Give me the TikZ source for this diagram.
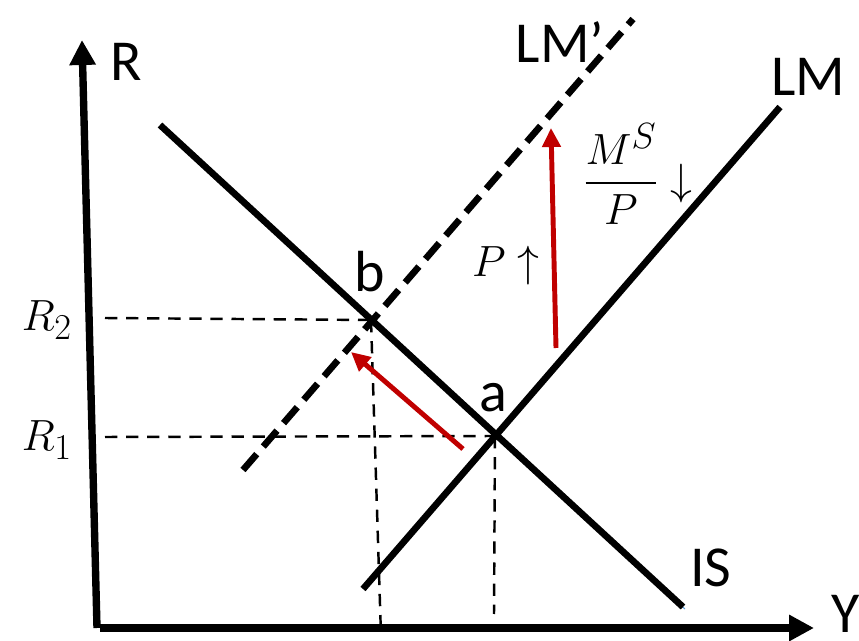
\documentclass[tikz,border=0pt]{standalone}
\usepackage{amsmath}
\usepackage{fontspec}
\setmainfont{Carlito}
\usetikzlibrary{arrows.meta}
\definecolor{shift-red}{HTML}{C00000}
\definecolor{trace-blue}{HTML}{5B9BD5}

\begin{document}
\begin{tikzpicture}[x=0.02cm, y=-0.02cm,
      every node/.style={font=\fontsize{33}{36}\selectfont},
      axis/.style={line width=4.2pt, -{Triangle[length=0.5cm, width=0.5cm]}},
      curve/.style={line width=3.8pt},
      guide/.style={line width=1.4pt, dash pattern=on 7pt off 5pt},
      shiftarrow/.style={shift-red, line width=2.8pt,
        -{Triangle[length=0.38cm, width=0.36cm]}},
      mathlab/.style={font=\fontsize{29}{32}\selectfont}]
    \useasboundingbox (0,0) rectangle (859,641);
    % axes
    \coordinate (O) at (97,628);
    \coordinate (Rtop) at (82,40);
    \coordinate (Yend) at (814,628);
    \draw[axis] (O) -- (Rtop);
    \draw[axis] (100,628) -- (Yend);
    \node (Rlab) at (126,62) {R};
    \node (Ylab) at (846,614) {Y};
    % curves
    \coordinate (IS1) at (160,125);
    \coordinate (IS2) at (683,607);
    \coordinate (LM1) at (363,589);
    \coordinate (LM2) at (780,107);
    \coordinate (LMp1) at (243,470);
    \coordinate (LMp2) at (633,19);
    \coordinate (a) at (495,436);
    \coordinate (b) at (371,320);
    \draw[trace-blue, line width=0.6pt] (a) ++(2,-1) -- (685,609);
    \draw[curve] (IS1) -- (IS2);
    \draw[curve] (LM1) -- (LM2);
    \draw[curve, dash pattern=on 0.42cm off 0.2cm] (LMp1) -- (LMp2);
    \node (ISlab) at (711,568) {IS};
    \node (LMlab) at (808,77) {LM};
    \node (LMplab) at (560,42) {LM’};
    % equilibria
    \node (alab) at (493,398) {a};
    \node (blab) at (370,272) {b};
    \coordinate (R2ax) at (105,318);
    \coordinate (R1ax) at (105,437);
    \coordinate (Yb) at (381,636);
    \coordinate (Ya) at (494,614);
    \draw[guide] (R2ax) -- (b);
    \draw[guide] (R1ax) -- (a);
    \draw[guide] (b) -- (Yb);
    \draw[guide] (a) -- (Ya);
    \node[mathlab] (R2lab) at (47,320) {$R_2$};
    \node[mathlab] (R1lab) at (47,440) {$R_1$};
    % shifts
    \coordinate (s1) at (463,449);
    \coordinate (t1) at (351,352);
    \coordinate (s2) at (556,348);
    \coordinate (t2) at (551,128);
    \draw[shiftarrow] (s1) -- (t1);
    \draw[shiftarrow] (s2) -- (t2);
    \node[mathlab] (Plab) at (506,266) {$P\uparrow$};
    \node[mathlab] (Mlab) at (638,174) {$\dfrac{M^S}{P}\downarrow$};
  \end{tikzpicture}
\end{document}
